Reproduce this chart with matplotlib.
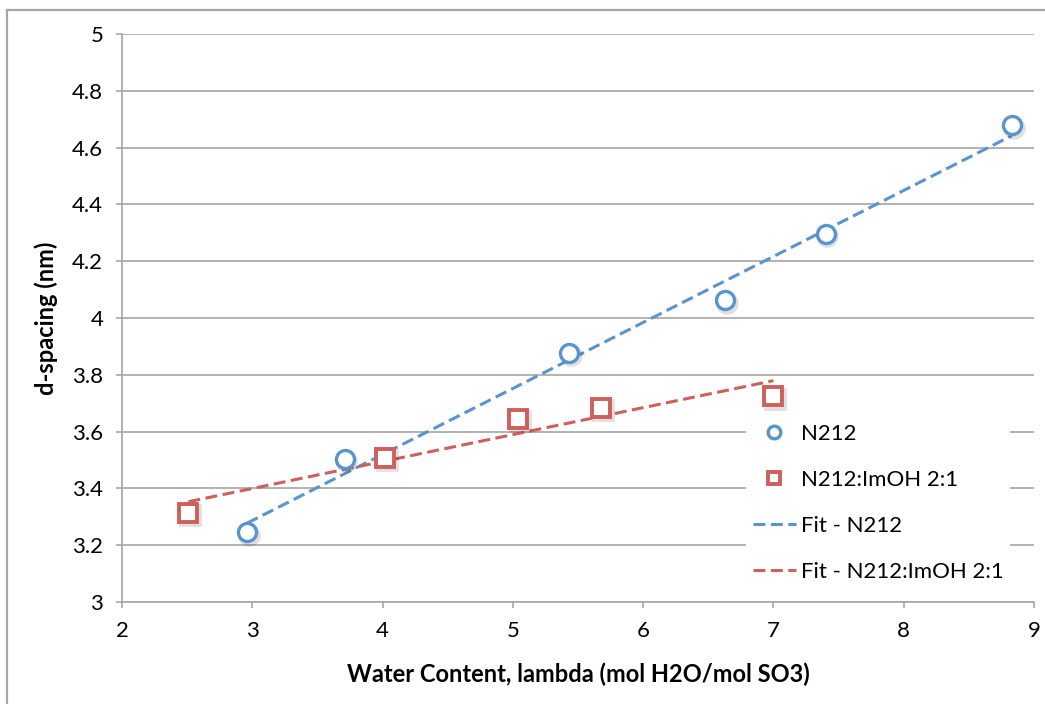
"""
d-spacing vs water content for N212 and N212:ImOH 2:1 membranes,
with linear fits over each data range.
"""
import numpy as np
import matplotlib
matplotlib.use('Agg')
import matplotlib.pyplot as plt
import matplotlib.transforms as mtransforms
from matplotlib.lines import Line2D

plt.rcParams['font.family'] = ['Lato', 'DejaVu Sans']

# measured data
lambda_n212 = [2.96, 3.71, 5.43, 6.63, 7.40, 8.83]
dspacing_n212 = [3.246, 3.505, 3.877, 4.062, 4.296, 4.678]

lambda_imoh = [2.51, 4.02, 5.04, 5.68, 7.00]
dspacing_imoh = [3.314, 3.508, 3.645, 3.684, 3.725]

xticks = [2, 3, 4, 5, 6, 7, 8, 9]
yticks = [3, 3.2, 3.4, 3.6, 3.8, 4, 4.2, 4.4, 4.6, 4.8, 5]

BLUE = '#5a94cf'
RED = '#cf5f5a'
GRID = '#a6a6a6'


def linear_fit(x, y):
    """Least-squares line spanning the data range"""
    slope, intercept = np.polyfit(x, y, 1)
    xs = np.array([min(x), max(x)])
    return xs, slope * xs + intercept


W, H = 1045, 704
fig = plt.figure(figsize=(W / 100, H / 100), dpi=100)
ax = fig.add_axes([122 / W, (H - 602) / H, (1034 - 122) / W, (602 - 34) / H])

# outer chart border (left and top edges visible)
fig.add_artist(Line2D([7 / W, 7 / W], [0, (H - 10) / H], transform=fig.transFigure,
                      color=GRID, linewidth=1.6))
fig.add_artist(Line2D([7 / W, 1], [(H - 10) / H, (H - 10) / H], transform=fig.transFigure,
                      color=GRID, linewidth=1.6))

# fit lines
fx, fy = linear_fit(lambda_n212, dspacing_n212)
ax.plot(fx, fy, color=BLUE, linewidth=2.2, dashes=(3.9, 1.8), label='Fit - N212', zorder=3)
fx, fy = linear_fit(lambda_imoh, dspacing_imoh)
ax.plot(fx, fy, color=RED, linewidth=2.2, dashes=(3.9, 1.8), label='Fit - N212:ImOH 2:1', zorder=3)

# soft drop shadow under the markers
shadow = mtransforms.offset_copy(ax.transData, fig=fig, x=1.2, y=-1.8, units='points')
ax.plot(lambda_n212, dspacing_n212, linestyle='none', marker='o', markersize=13,
        markerfacecolor='none', markeredgecolor='black', markeredgewidth=3.2,
        alpha=0.12, transform=shadow, zorder=3.5)
ax.plot(lambda_imoh, dspacing_imoh, linestyle='none', marker='s', markersize=13,
        markerfacecolor='none', markeredgecolor='black', markeredgewidth=3.4,
        alpha=0.12, transform=shadow, zorder=3.5)

ax.plot(lambda_n212, dspacing_n212, linestyle='none', marker='o', markersize=13,
        markerfacecolor='white', markeredgecolor=BLUE, markeredgewidth=2.4,
        label='N212', zorder=4)
ax.plot(lambda_imoh, dspacing_imoh, linestyle='none', marker='s', markersize=13,
        markerfacecolor='white', markeredgecolor=RED, markeredgewidth=2.8,
        label='N212:ImOH 2:1', zorder=4)

ax.set_xlim(2, 9)
ax.set_ylim(3, 5)
ax.set_xticks(xticks)
ax.set_xticklabels([str(t) for t in xticks])
ax.set_yticks(yticks)
ax.set_yticklabels([f'{t:g}' for t in yticks])

ax.grid(True, axis='y', color=GRID, linewidth=1.2)
ax.set_axisbelow(True)
for side in ['top', 'right']:
    ax.spines[side].set_visible(False)
for side in ['left', 'bottom']:
    ax.spines[side].set_color(GRID)
    ax.spines[side].set_linewidth(1.2)
ax.tick_params(axis='both', direction='out', length=4.5, width=1.2, color=GRID,
               labelsize=16)
ax.tick_params(axis='y', pad=9)
ax.tick_params(axis='x', pad=9)

ax.set_xlabel('Water Content, lambda (mol H2O/mol SO3)', fontsize=17, fontweight='bold', labelpad=16)
ax.set_ylabel('d-spacing (nm)', fontsize=17, fontweight='bold', labelpad=10)

handles, labels = ax.get_legend_handles_labels()
order = [2, 3, 0, 1]
leg = ax.legend([handles[i] for i in order], [labels[i] for i in order],
                loc='center left', bbox_to_anchor=(0.672, 0.175), fontsize=16,
                frameon=True, facecolor='white', edgecolor='none', framealpha=1,
                fancybox=False, handlelength=1.95, handletextpad=0.22,
                labelspacing=1.17, markerscale=0.7, borderpad=0.3)

plt.savefig('out.png', dpi=100)
